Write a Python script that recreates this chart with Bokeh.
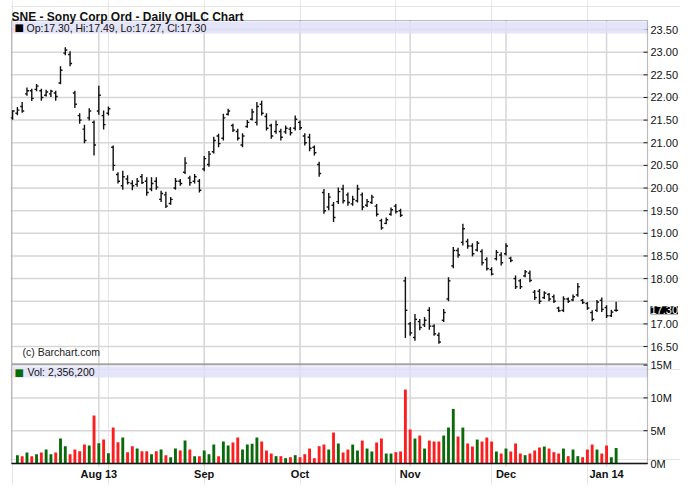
import numpy as np
import pandas as pd
from bokeh.plotting import figure
from bokeh.core.properties import value
from bokeh.models import Range1d, Label, BoxAnnotation, ColumnDataSource
from bokeh.embed import file_html
from bokeh.resources import INLINE

# ---------------- data ----------------
holidays = ["2013-09-02", "2013-11-28", "2013-12-25", "2014-01-01"]
dates = [d for d in pd.bdate_range("2013-07-08", "2014-01-06")
         if d.strftime("%Y-%m-%d") not in holidays]

high = [21.72, 21.79, 21.90, 22.22, 22.19, 22.30, 22.19, 22.17, 22.17, 22.15,
        22.69, 23.11, 23.02, 22.15, 21.65, 21.40, 21.76, 21.49, 22.26, 21.71,
        21.80, 20.94, 20.35, 20.38, 20.28, 20.17, 20.22, 20.31, 20.24, 20.24,
        20.24, 19.94, 19.92, 19.80, 20.22, 20.20, 20.68, 20.27, 20.31, 20.20,
        20.71, 20.82, 21.13, 21.20, 21.64, 21.75, 21.42, 21.31, 21.21, 21.50,
        21.75, 21.90, 21.93, 21.65, 21.42, 21.49, 21.31, 21.38, 21.35, 21.60,
        21.49, 21.21, 21.20, 20.94, 20.58, 19.98, 19.89, 19.69, 20.01, 20.07,
        19.90, 19.83, 20.07, 19.90, 19.76, 19.85, 19.65, 19.32, 19.35, 19.57,
        19.65, 19.54, 18.04, 17.04, 17.22, 17.11, 17.15, 17.37, 16.99, 16.81,
        17.33, 18.03, 18.70, 18.68, 19.21, 18.88, 18.78, 18.83, 18.65, 18.47,
        18.25, 18.63, 18.58, 18.78, 18.48, 18.07, 17.99, 18.19, 18.18, 17.75,
        17.77, 17.72, 17.68, 17.65, 17.38, 17.61, 17.58, 17.65, 17.90, 17.55,
        17.48, 17.30, 17.53, 17.58, 17.41, 17.31, 17.49]

low = [21.51, 21.61, 21.66, 22.04, 21.92, 22.14, 21.93, 22.02, 22.01, 21.93,
       22.29, 22.93, 22.69, 21.77, 21.42, 20.99, 21.49, 20.72, 21.62, 21.29,
       21.60, 20.38, 20.10, 19.96, 20.08, 19.95, 20.03, 20.09, 19.83, 19.93,
       19.96, 19.69, 19.56, 19.63, 19.96, 20.05, 20.31, 20.05, 20.10, 19.90,
       20.37, 20.47, 20.76, 20.90, 21.05, 21.60, 21.24, 21.05, 20.90, 21.33,
       21.49, 21.38, 21.60, 21.27, 21.09, 21.20, 21.05, 21.20, 21.16, 21.27,
       21.28, 20.94, 20.81, 20.72, 20.25, 19.43, 19.51, 19.25, 19.65, 19.66,
       19.61, 19.61, 19.68, 19.51, 19.58, 19.65, 19.37, 19.08, 19.20, 19.39,
       19.44, 19.36, 16.69, 16.74, 16.63, 16.86, 16.93, 16.87, 16.74, 16.56,
       17.04, 17.50, 18.23, 18.46, 18.73, 18.66, 18.49, 18.60, 18.29, 18.18,
       18.07, 18.40, 18.29, 18.51, 18.36, 17.77, 17.77, 18.03, 17.92, 17.53,
       17.44, 17.55, 17.50, 17.46, 17.26, 17.26, 17.46, 17.50, 17.60, 17.44,
       17.31, 17.06, 17.26, 17.26, 17.13, 17.15, 17.27]

opn = [21.55, 21.65, 21.80, 22.08, 22.15, 22.18, 22.15, 22.05, 22.08, 22.10,
       22.32, 22.98, 22.95, 22.10, 21.60, 21.30, 21.55, 21.45, 21.70, 21.60,
       21.65, 20.90, 20.30, 20.05, 20.20, 20.10, 20.08, 20.25, 20.15, 19.98,
       20.15, 19.75, 19.85, 19.66, 20.00, 20.15, 20.35, 20.22, 20.15, 20.15,
       20.42, 20.52, 20.80, 21.15, 21.10, 21.63, 21.38, 21.25, 20.95, 21.36,
       21.52, 21.45, 21.85, 21.58, 21.38, 21.25, 21.25, 21.24, 21.30, 21.32,
       21.45, 21.15, 21.12, 20.90, 20.52, 19.90, 19.58, 19.62, 19.70, 19.98,
       19.85, 19.65, 19.72, 19.85, 19.62, 19.68, 19.60, 19.28, 19.22, 19.42,
       19.60, 19.50, 17.95, 17.00, 16.70, 17.05, 16.98, 17.30, 16.95, 16.75,
       17.08, 17.55, 18.28, 18.62, 18.80, 18.82, 18.72, 18.63, 18.60, 18.42,
       18.20, 18.44, 18.52, 18.55, 18.45, 18.00, 17.95, 18.06, 18.12, 17.70,
       17.72, 17.58, 17.65, 17.60, 17.35, 17.30, 17.55, 17.53, 17.64, 17.52,
       17.45, 17.25, 17.30, 17.52, 17.36, 17.18, 17.30]

close = [21.70, 21.72, 21.70, 22.15, 21.98, 22.25, 22.00, 22.12, 22.14, 22.02,
         22.60, 23.05, 22.75, 21.85, 21.50, 21.05, 21.70, 20.95, 22.05, 21.40,
         21.75, 20.50, 20.15, 20.25, 20.12, 20.05, 20.15, 20.12, 19.90, 20.10,
         20.02, 19.88, 19.60, 19.75, 20.15, 20.10, 20.55, 20.12, 20.25, 19.95,
         20.65, 20.75, 21.05, 20.98, 21.55, 21.70, 21.28, 21.10, 21.15, 21.45,
         21.68, 21.80, 21.65, 21.32, 21.15, 21.40, 21.12, 21.32, 21.22, 21.52,
         21.33, 21.00, 20.88, 20.78, 20.32, 19.50, 19.80, 19.35, 19.92, 19.72,
         19.68, 19.75, 19.98, 19.58, 19.70, 19.80, 19.42, 19.12, 19.30, 19.52,
         19.48, 19.40, 17.30, 16.80, 17.10, 16.92, 17.08, 16.95, 16.78, 16.60,
         17.25, 17.95, 18.62, 18.52, 19.10, 18.72, 18.55, 18.78, 18.35, 18.22,
         18.10, 18.58, 18.35, 18.72, 18.40, 17.82, 17.82, 18.15, 17.96, 17.58,
         17.50, 17.68, 17.55, 17.50, 17.29, 17.55, 17.50, 17.60, 17.82, 17.47,
         17.35, 17.10, 17.48, 17.32, 17.18, 17.26, 17.30]

# volume in millions of shares (first day not shown on the chart)
volume_m = [np.nan, 1.27, 1.12, 1.68, 1.12, 1.42, 1.68, 2.13, 1.42, 1.68,
            3.81, 2.64, 1.42, 2.13, 1.88, 2.89, 2.74, 7.31, 3.10, 3.65,
            1.57, 5.48, 3.25, 3.96, 1.73, 2.64, 2.28, 1.88, 1.88, 1.42,
            1.88, 2.13, 1.27, 0.96, 2.28, 1.98, 3.50, 2.13, 1.12, 1.12,
            1.98, 1.42, 2.89, 1.12, 3.35, 2.74, 3.20, 3.96, 2.13, 2.89,
            3.00, 3.96, 3.35, 1.98, 1.52, 1.12, 1.12, 0.81, 0.96, 1.27,
            0.96, 1.42, 2.28, 0.81, 2.64, 2.89, 2.13, 4.72, 3.05, 1.68,
            2.13, 2.89, 1.98, 3.50, 2.28, 1.83, 3.20, 3.81, 1.52, 1.52,
            1.73, 1.83, 11.27, 5.18, 3.81, 4.26, 2.28, 3.50, 3.35, 3.35,
            4.26, 5.48, 8.32, 4.11, 5.48, 3.05, 2.59, 3.65, 3.35, 3.96,
            3.35, 1.83, 1.52, 2.28, 1.83, 3.05, 1.52, 1.27, 1.52, 1.98,
            2.44, 2.59, 2.28, 1.73, 1.52, 2.28, 1.12, 2.13, 1.12, 0.96,
            2.13, 2.89, 2.13, 1.52, 2.74, 0.96, 2.3562]

month_labels = ["Aug 13", "Sep", "Oct", "Nov", "Dec", "Jan 14"]
price_ticks = [16.5, 17.0, 17.5, 18.0, 18.5, 19.0, 19.5, 20.0, 20.5,
               21.0, 21.5, 22.0, 22.5, 23.0, 23.5]
vol_ticks = [0, 5, 10, 15]
title_text = "SNE - Sony Corp Ord - Daily OHLC Chart"

# ---------------- layout constants (one frame holds both panels) ----------------
W, H = 680, 485
FRAME_LEFT = 10         # px left of the frame
AREA_LEFT = 11          # px of the plot areas' left edge
AREA_W = 636            # plot area width in px
P_HEAD = 20             # px above the price area (title)
P_AREA_H = 343
GAP = 1
V_AREA_H = 99
BAR_PX = 4.79
PX_PER_DOLLAR = 45.28
PRICE_TOP = 23.70
PX_PER_MVOL = 6.56
FONT = "Liberation Sans"
GRID_C = "#d6d6d6"
BAND_C = "#dedef7"
BAR_C = "#111111"
AXIS_C = "#222222"
TXT_C = "#111111"
UP_C, DN_C = "#0a6a0a", "#ff1c1c"
TICK_W = 0.42
AX_TICK_PX = 4
LBL_PAD_PX = 3

n = len(dates)
idx = np.arange(n)
X0 = -0.23                                  # data x at the areas' left edge
XA = X0 + AREA_W / BAR_PX                   # data x at the areas' right edge (scales)
x_lo = X0 - (AREA_LEFT - FRAME_LEFT) / BAR_PX
x_hi = x_lo + (W - FRAME_LEFT) / BAR_PX

p_hi = PRICE_TOP + P_HEAD / PX_PER_DOLLAR
p_lo = p_hi - H / PX_PER_DOLLAR
p_bottom = PRICE_TOP - P_AREA_H / PX_PER_DOLLAR

v_zero_px = P_HEAD + P_AREA_H + GAP + V_AREA_H
v_hi = v_zero_px / PX_PER_MVOL
v_lo = -(H - v_zero_px) / PX_PER_MVOL
v_top = V_AREA_H / PX_PER_MVOL

months = [d.month for d in dates]
month_pos = [i for i in range(1, n) if months[i] != months[i - 1]]

colors = [UP_C if c >= o else DN_C for o, c in zip(opn, close)]
src = ColumnDataSource(dict(x=idx, o=opn, h=high, l=low, c=close,
                            xl=idx - TICK_W, xr=idx + TICK_W,
                            v=np.array(volume_m, dtype=float), color=colors))

# price scale labels; the one hidden behind the last-price marker is left blank
price_labels = ["" if abs(t - close[-1]) < 0.25 else "%.2f" % t for t in price_ticks]
vol_labels = ["%dM" % t for t in vol_ticks]

p = figure(width=W, height=H, x_range=Range1d(x_lo, x_hi), y_range=Range1d(p_lo, p_hi),
           x_axis_location=None, y_axis_location=None, title=None,
           toolbar_location=None, output_backend="svg",
           min_border_left=FRAME_LEFT, min_border_right=0,
           min_border_top=0, min_border_bottom=0)
p.extra_y_ranges = {"vol": Range1d(v_lo, v_hi)}
p.outline_line_color = None
p.background_fill_color = "white"
p.border_fill_color = "white"

kp, kv, km = len(price_ticks), len(vol_ticks), len(month_pos)
x_lab = XA + LBL_PAD_PX / BAR_PX
x_tick0 = XA - AX_TICK_PX / BAR_PX

# ---------- price panel ----------
p.segment(x0=[X0] * kp, y0=price_ticks, x1=[XA] * kp, y1=price_ticks,
          line_color=GRID_C, line_width=1.5)
p.segment(x0=month_pos, y0=[p_bottom] * km, x1=month_pos, y1=[PRICE_TOP] * km,
          line_color=GRID_C, line_width=1.5)

p.segment(x0="x", y0="l", x1="x", y1="h", source=src, line_color=BAR_C, line_width=1.4)
p.segment(x0="xl", y0="o", x1="x", y1="o", source=src, line_color=BAR_C, line_width=1.4)
p.segment(x0="x", y0="c", x1="xr", y1="c", source=src, line_color=BAR_C, line_width=1.4)

p.segment(x0=[x_tick0] * kp, y0=price_ticks, x1=[XA] * kp, y1=price_ticks,
          line_color=AXIS_C, line_width=1)
p.text(x=[x_lab] * kp, y=price_ticks, text=price_labels,
       text_baseline="middle", text_align="left", text_font=value(FONT),
       text_font_size="11px", text_color=TXT_C)

p.add_layout(BoxAnnotation(left=X0, right=XA, top=PRICE_TOP - 1 / PX_PER_DOLLAR,
                           bottom=PRICE_TOP - 13 / PX_PER_DOLLAR,
                           fill_color=BAND_C, fill_alpha=0.8, line_color=None))
p.add_layout(BoxAnnotation(left=X0, right=XA, top=PRICE_TOP, bottom=p_bottom,
                           fill_alpha=0, line_color=AXIS_C, line_width=1.2))

p.add_layout(Label(x=X0, y=PRICE_TOP, y_offset=4, text=title_text,
                   text_font=FONT, text_font_style="bold", text_font_size="12px",
                   text_color=TXT_C, text_baseline="alphabetic"))
p.add_layout(Label(x=X0, y=PRICE_TOP, x_offset=3, y_offset=-7, text="■",
                   text_font="DejaVu Sans", text_font_size="10px",
                   text_color="black", text_baseline="middle"))
hdr = "Op:%.2f, Hi:%.2f, Lo:%.2f, Cl:%.2f" % (opn[-1], high[-1], low[-1], close[-1])
p.add_layout(Label(x=X0, y=PRICE_TOP, x_offset=15, y_offset=-7, text=hdr,
                   text_font=FONT, text_font_size="10.5px", text_color=TXT_C,
                   text_baseline="middle"))
p.add_layout(Label(x=X0, y=p_bottom, x_offset=11, y_offset=12,
                   text="(c) Barchart.com", text_font=FONT, text_font_size="10.5px",
                   text_color="#222222", text_baseline="middle"))
p.add_layout(Label(x=XA, y=close[-1], x_offset=3, text="%.2f" % close[-1],
                   text_font=FONT, text_font_size="11px", text_color="white",
                   text_baseline="middle", background_fill_color="black",
                   background_fill_alpha=1.0))

# ---------- volume panel ----------
p.segment(x0=[X0] * kv, y0=vol_ticks, x1=[XA] * kv, y1=vol_ticks,
          line_color=GRID_C, line_width=1.5, y_range_name="vol")
p.segment(x0=month_pos, y0=[-3 / PX_PER_MVOL] * km, x1=month_pos, y1=[v_top] * km,
          line_color=GRID_C, line_width=1.5, y_range_name="vol")

p.vbar(x="x", top="v", bottom=0, width=0.6, source=src, fill_color="color",
       line_color=None, y_range_name="vol")

p.segment(x0=[x_tick0] * kv, y0=vol_ticks, x1=[XA] * kv, y1=vol_ticks,
          line_color=AXIS_C, line_width=1, y_range_name="vol")
p.text(x=[x_lab] * kv, y=vol_ticks, text=vol_labels, y_range_name="vol",
       text_baseline="middle", text_align="left", text_font=value(FONT),
       text_font_size="11px", text_color=TXT_C)
p.text(x=month_pos, y=[-4 / PX_PER_MVOL] * km, text=month_labels, y_range_name="vol",
       text_baseline="top", text_align="center", text_font=value(FONT),
       text_font_style="bold", text_font_size="11px", text_color=TXT_C)

p.add_layout(BoxAnnotation(left=X0, right=XA, top=v_top - 2 / PX_PER_MVOL,
                           bottom=v_top - 13 / PX_PER_MVOL, y_range_name="vol",
                           fill_color=BAND_C, fill_alpha=0.8, line_color=None))
p.add_layout(BoxAnnotation(left=X0, right=XA, top=v_top, bottom=0, y_range_name="vol",
                           fill_alpha=0, line_color=AXIS_C, line_width=1.2))
p.segment(x0=[X0], y0=[0], x1=[XA], y1=[0], line_color="#111111", line_width=1.6,
          y_range_name="vol")

p.add_layout(Label(x=X0, y=v_top, x_offset=3, y_offset=-7.5, y_range_name="vol",
                   text="■", text_font="DejaVu Sans", text_font_size="10px",
                   text_color=UP_C, text_baseline="middle"))
p.add_layout(Label(x=X0, y=v_top, x_offset=16, y_offset=-7.5, y_range_name="vol",
                   text="Vol: {:,}".format(int(round(volume_m[-1] * 1e6))),
                   text_font=FONT, text_font_size="10.5px", text_color=TXT_C,
                   text_baseline="middle"))

open("out.html", "w").write(file_html(p, INLINE))
